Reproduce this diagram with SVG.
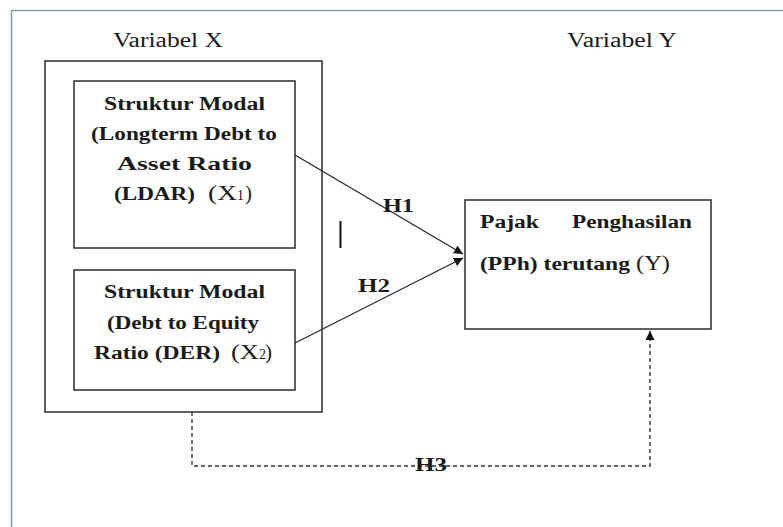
<svg xmlns="http://www.w3.org/2000/svg" width="783" height="527" viewBox="0 0 783 527">
<defs>
<style>
.box{fill:#fff;stroke:#2b2b2b;stroke-width:1.5}
.t{font-family:"Liberation Serif","Times New Roman",serif;fill:#1a1a1a}
.b{font-weight:bold}
.lbl{font-size:20px}
.con{stroke:#2b2b2b;stroke-width:1.4;fill:none}
.dash{stroke:#333;stroke-width:1.4;fill:none;stroke-dasharray:4 3}
</style>
<marker id="ah" viewBox="0 0 10 10" refX="10" refY="5" markerWidth="9" markerHeight="9" markerUnits="userSpaceOnUse" orient="auto">
<path d="M0,0 L10,5 L0,10 Z" fill="#111"/>
</marker>
<marker id="ah2" viewBox="0 0 10 10" refX="10" refY="5" markerWidth="11" markerHeight="9" markerUnits="userSpaceOnUse" orient="auto">
<path d="M0,0 L10,5 L0,10 Z" fill="#111"/>
</marker>
</defs>
<rect x="0" y="0" width="783" height="527" fill="#fff"/>
<path d="M11.5,527 V10.5 H783" fill="none" stroke="#8b9ea6" stroke-width="1.6"/>

<text class="t lbl" x="113" y="47" textLength="110" lengthAdjust="spacingAndGlyphs">Variabel X</text>
<text class="t lbl" x="567" y="47" textLength="110" lengthAdjust="spacingAndGlyphs">Variabel Y</text>

<g id="variabel-x">
<rect class="box" x="45" y="61" width="277" height="351"/>
</g>

<g id="x1">
<rect class="box" x="74" y="81" width="221" height="167"/>
<text class="t b" font-size="18" x="104" y="110" textLength="161" lengthAdjust="spacingAndGlyphs">Struktur Modal</text>
<text class="t b" font-size="18" x="91" y="140" textLength="186" lengthAdjust="spacingAndGlyphs">(Longterm Debt to</text>
<text class="t b" font-size="18" x="117" y="170" textLength="135" lengthAdjust="spacingAndGlyphs">Asset Ratio</text>
<text class="t b" font-size="18" x="114" y="200" textLength="81" lengthAdjust="spacingAndGlyphs">(LDAR)</text>
<text class="t" font-size="20" x="208" y="200" textLength="29" lengthAdjust="spacingAndGlyphs">(X</text>
<text class="t" font-size="14" x="237" y="200" textLength="7" lengthAdjust="spacingAndGlyphs">1</text>
<text class="t" font-size="20" x="245" y="200" textLength="7" lengthAdjust="spacingAndGlyphs">)</text>
</g>

<g id="x2">
<rect class="box" x="74" y="270" width="221" height="120"/>
<text class="t b" font-size="18" x="104" y="298" textLength="161" lengthAdjust="spacingAndGlyphs">Struktur Modal</text>
<text class="t b" font-size="18" x="107" y="329" textLength="152" lengthAdjust="spacingAndGlyphs">(Debt to Equity</text>
<text class="t b" font-size="18" x="94" y="359" textLength="126" lengthAdjust="spacingAndGlyphs">Ratio (DER)</text>
<text class="t" font-size="20" x="231" y="359" textLength="28" lengthAdjust="spacingAndGlyphs">(X</text>
<text class="t" font-size="14" x="259" y="359" textLength="7" lengthAdjust="spacingAndGlyphs">2</text>
<text class="t" font-size="20" x="265" y="359" textLength="7" lengthAdjust="spacingAndGlyphs">)</text>
</g>

<g id="y">
<rect class="box" x="465" y="200" width="246" height="129"/>
<text class="t b" font-size="18" x="480" y="228" textLength="59" lengthAdjust="spacingAndGlyphs">Pajak</text>
<text class="t b" font-size="18" x="572" y="228" textLength="120" lengthAdjust="spacingAndGlyphs">Penghasilan</text>
<text class="t b" font-size="18" x="480" y="270" textLength="150" lengthAdjust="spacingAndGlyphs">(PPh) terutang</text>
<text class="t" font-size="20" x="636" y="270" textLength="34" lengthAdjust="spacingAndGlyphs">(Y)</text>
</g>

<g id="connectors">
<line class="con" x1="295" y1="155" x2="463" y2="254" marker-end="url(#ah)"/>
<line class="con" x1="295" y1="343" x2="463" y2="258" marker-end="url(#ah)"/>
<path class="dash" d="M192,412 V466 H650 V331" marker-end="url(#ah2)"/>
<line x1="340.5" y1="221" x2="340.5" y2="248" stroke="#111" stroke-width="2"/>
<text class="t b" font-size="18" x="383" y="212" textLength="31" lengthAdjust="spacingAndGlyphs">H1</text>
<text class="t b" font-size="18" x="358" y="292" textLength="32" lengthAdjust="spacingAndGlyphs">H2</text>
<text class="t b" font-size="18" x="415" y="471" textLength="32" lengthAdjust="spacingAndGlyphs">H3</text>
</g>
</svg>
